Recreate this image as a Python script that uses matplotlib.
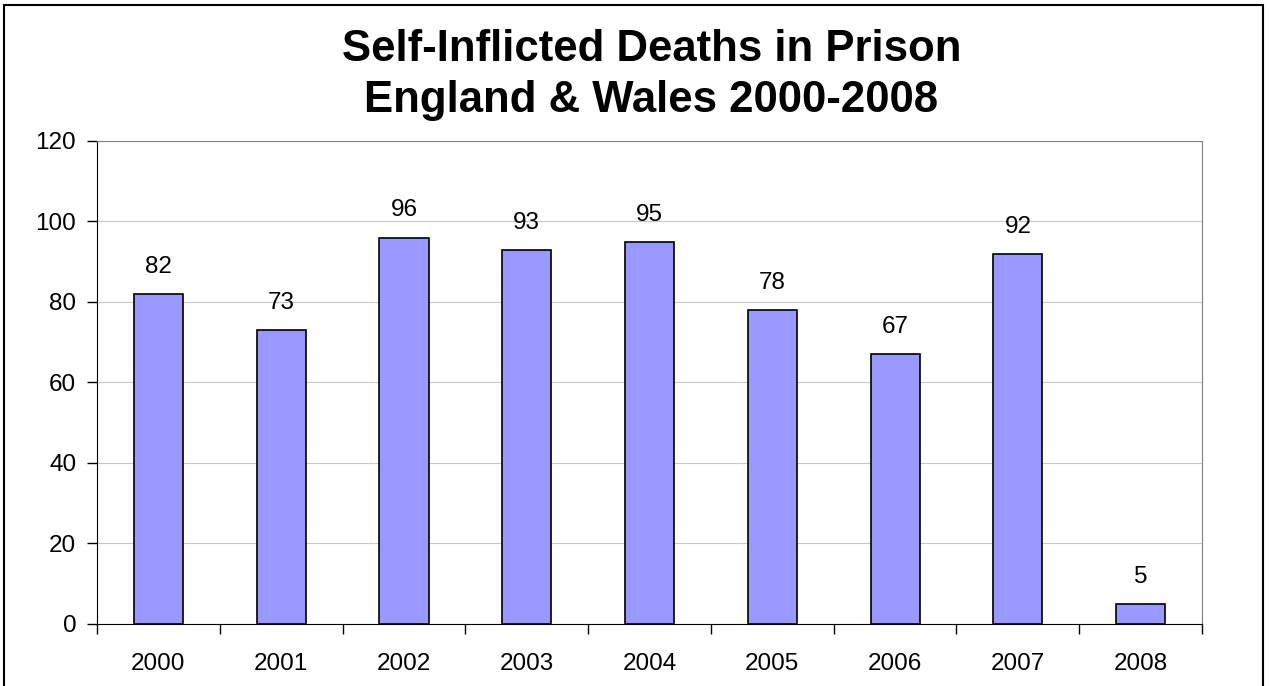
import matplotlib.pyplot as plt
from matplotlib.patches import Rectangle
import numpy as np

years = ['2000', '2001', '2002', '2003', '2004', '2005', '2006', '2007', '2008']
deaths = [82, 73, 96, 93, 95, 78, 67, 92, 5]

plt.rcParams['font.family'] = ['Liberation Sans', 'DejaVu Sans']

fig = plt.figure(figsize=(12.7, 6.86), dpi=100)
ax = fig.add_axes([0.0764, 0.0904, 0.8701, 0.7041])

# outer chart border (bottom edge falls outside the picture)
fig.patches.append(Rectangle((4 / 1270, -0.05), 1259 / 1270, 1.05 - 5 / 686,
                             transform=fig.transFigure, fill=False,
                             edgecolor='black', linewidth=1.5))

x = np.arange(len(years))
ax.bar(x, deaths, width=0.4, color='#9999FF', edgecolor='black', linewidth=1.2, zorder=3)

for xi, v in zip(x, deaths):
    ax.text(xi, v + 4, str(v), ha='center', va='bottom', fontsize=17.5)

ax.set_xlim(-0.5, len(years) - 0.5)
ax.set_ylim(0, 120)
ax.set_yticks(range(0, 121, 20))
ax.set_xticks(x)
ax.set_xticklabels(years)
ax.set_xticks(np.arange(-0.5, len(years), 1), minor=True)
ax.tick_params(axis='x', which='major', length=0, pad=21, labelsize=17.5)
ax.tick_params(axis='x', which='minor', length=7, width=1, direction='out')
ax.tick_params(axis='y', length=7, width=1, direction='out', labelsize=17.5, pad=8)

ax.grid(axis='y', color='#c8c8c8', linewidth=0.8, zorder=0)
ax.spines['left'].set_color('black')
ax.spines['bottom'].set_color('black')
ax.spines['top'].set_color('#808080')
ax.spines['right'].set_color('#808080')

fig.text(0.513, 0.891, 'Self-Inflicted Deaths in Prison\nEngland & Wales 2000-2008',
         ha='center', va='center', fontsize=31.5, fontweight='bold', linespacing=1.32)

fig.savefig('out.png', dpi=100)
